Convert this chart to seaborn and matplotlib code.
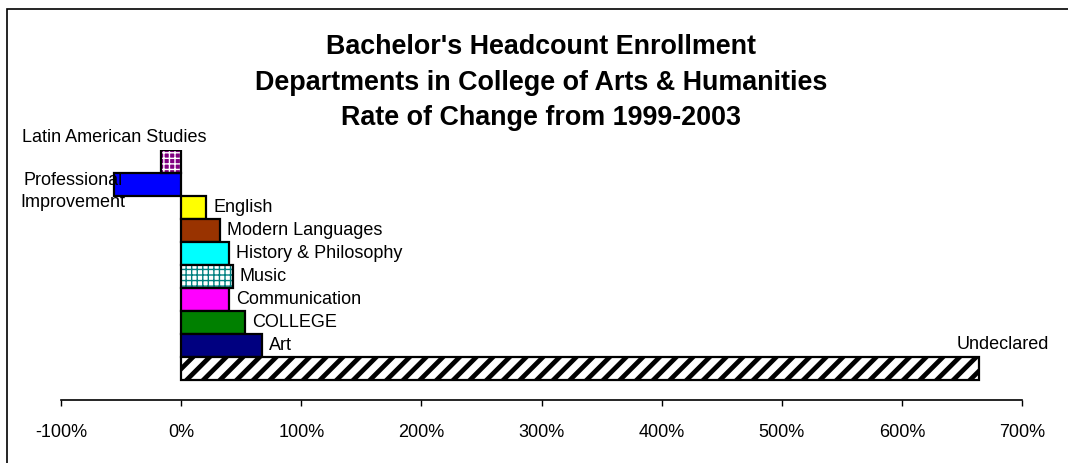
import matplotlib
matplotlib.use("Agg")
import matplotlib.pyplot as plt
import matplotlib.patches as mpatches
import seaborn as sns
import pandas as pd

# data (rate of change, %)
departments = ["Latin American Studies", "Professional Improvement", "English",
               "Modern Languages", "History & Philosophy", "Music",
               "Communication", "COLLEGE", "Art", "Undeclared"]
change_pct = [-17, -56, 21, 32, 40, 43, 40, 53, 67, 664]
bar_colors = ["#800080", "#0000FF", "#FFFF00", "#993300", "#00FFFF",
              "#FFFFFF", "#FF00FF", "#008000", "#000080", "#FFFFFF"]
ticks = [-100, 0, 100, 200, 300, 400, 500, 600, 700]
title_lines = ["Bachelor's Headcount Enrollment",
               "Departments in College of Arts & Humanities",
               "Rate of Change from 1999-2003"]

sns.set_style("white")
plt.rcParams['font.family'] = ['Liberation Sans', 'DejaVu Sans']
plt.rcParams['text.color'] = 'black'
plt.rcParams['xtick.color'] = 'black'
plt.rcParams['xtick.labelcolor'] = 'black'
plt.rcParams['hatch.linewidth'] = 1.0

W, H = 1068, 463
fig = plt.figure(figsize=(W / 100, H / 100), dpi=100)
ax = fig.add_axes([61 / W, 1 - 400 / H, (1022 - 61) / W, 250 / H])

df = pd.DataFrame({"dept": departments, "pct": change_pct})
sns.barplot(data=df, x="pct", y="dept", hue="dept", palette=bar_colors,
            orient="h", width=1.0, legend=False, ax=ax,
            edgecolor="black", linewidth=1.6, saturation=1)

# hatched bars: hatch drawn in its own colour, black outline on top
hatch_style = {"Latin American Studies": ("+++", "white"),
               "Music": ("+++", "#008080"),
               "Undeclared": ("//", "black")}
for p, name in zip(ax.patches, departments):
    if name in hatch_style:
        h, hc = hatch_style[name]
        p.set_hatch(h)
        p.set_edgecolor(hc)
        p.set_linewidth(0)
        if name == "Undeclared" and hasattr(p, "set_hatch_linewidth"):
            p.set_hatch_linewidth(3.4)
        ax.add_patch(mpatches.Rectangle((p.get_x(), p.get_y()), p.get_width(), p.get_height(),
                                        fill=False, edgecolor="black", linewidth=1.6, zorder=3))

ax.set_xlim(ticks[0], ticks[-1])
ax.set_ylim(len(departments) - 0.5 + 20 / 23, -0.5)
ax.set_xticks(ticks)
ax.set_xticklabels([f"{t}%" for t in ticks])
ax.set_yticks([])
ax.set_xlabel("")
ax.set_ylabel("")
for s in ["top", "left", "right"]:
    ax.spines[s].set_visible(False)
ax.spines["bottom"].set_color("black")
ax.spines["bottom"].set_linewidth(1.2)
ax.tick_params(axis="x", direction="out", length=4, width=1, color="black",
               labelsize=13, pad=13, bottom=True, labelcolor="black")

# data labels
lab = dict(fontsize=13, color="black", textcoords="offset pixels", annotation_clip=False)
for i, (name, v) in enumerate(zip(departments, change_pct)):
    if name == "Latin American Studies":
        ax.annotate(name, (v / 2, i), xytext=(-57, 24), ha="center", va="center", **lab)
    elif name == "Professional Improvement":
        ax.annotate("Professional\nImprovement", (v, i), xytext=(-41, -7), ha="center",
                    va="center", linespacing=1.4, **lab)
    elif name == "Undeclared":
        ax.annotate(name, (v, i), xytext=(24, 24), ha="center", va="center", **lab)
    else:
        ax.annotate(name, (v, i), xytext=(7, 0), ha="left", va="center", **lab)

for line, y in zip(title_lines, [47, 83, 118]):
    fig.text(541 / W, 1 - y / H, line, ha="center", va="center",
             fontsize=19.4, fontweight="bold", color="black")

fig.add_artist(mpatches.Rectangle((7 / W, -0.1), 1.2, 1.1 - 9 / H, transform=fig.transFigure,
                                  fill=False, edgecolor="black", linewidth=1.2))

fig.savefig("out.png", dpi=100)
